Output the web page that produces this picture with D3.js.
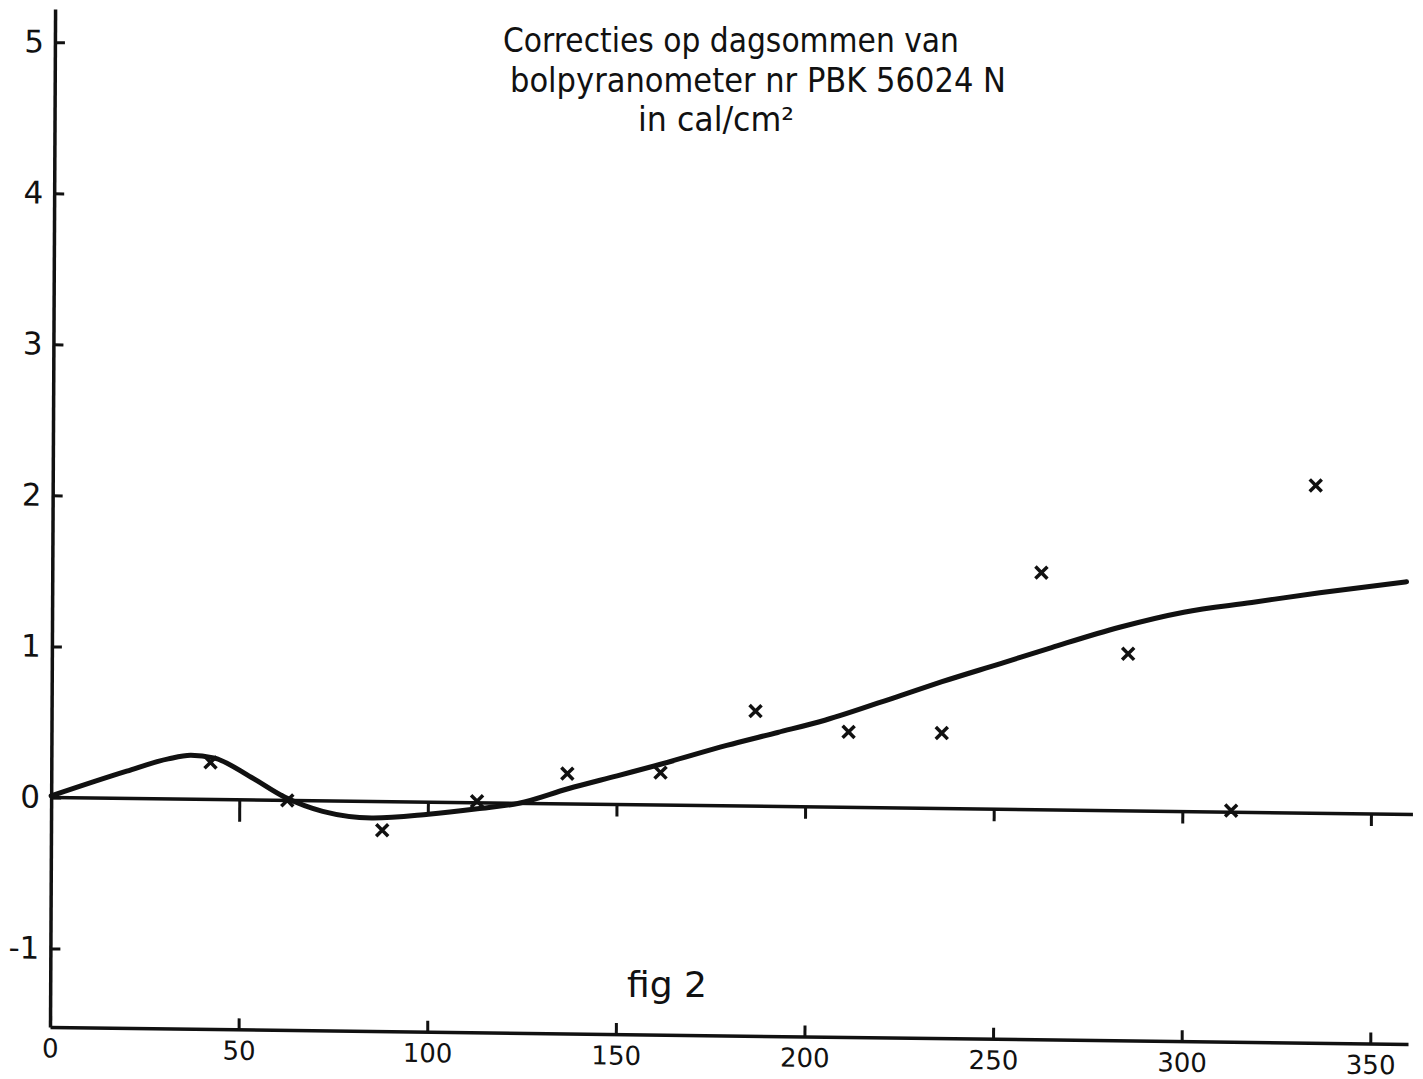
<!DOCTYPE html>
<html>
<head>
<meta charset="utf-8">
<script src="https://cdn.jsdelivr.net/npm/d3@7"></script>
<style>
  body { margin: 0; background: #fff; }
  text { font-family: "DejaVu Sans", sans-serif; fill: #111; }
</style>
</head>
<body>
<div id="chart"></div>
<script>
// data
var titleLines = ["Correcties op dagsommen van", "bolpyranometer nr PBK 56024 N", "in cal/cm\u00b2"];
var figLabel = "fig 2";

var xTicks = [0, 50, 100, 150, 200, 250, 300, 350];
var yTicks = [-1, 0, 1, 2, 3, 4, 5];

// measured corrections (crosses)
var pointX = [42.2, 62.6, 87.8, 112.9, 136.8, 161.5, 186.6, 211.3, 236, 262.2, 285.3, 312.8, 334.8];
var pointY = [0.245, 0.0, -0.19, 0.01, 0.2, 0.215, 0.63, 0.5, 0.5, 1.57, 1.04, 0.01, 2.17];

// hand drawn smooth curve
var curveX = [0, 20, 31, 37, 43, 53, 62, 72, 85, 100, 113, 124, 137, 150, 161.5, 179, 192.5, 205, 225, 236, 251.5, 265, 283, 300, 318, 336, 359];
var curveY = [0.01, 0.18, 0.265, 0.29, 0.275, 0.15, 0.02, -0.07, -0.11, -0.08, -0.04, 0.0, 0.1, 0.19, 0.27, 0.4, 0.49, 0.575, 0.745, 0.84, 0.965, 1.075, 1.215, 1.32, 1.39, 1.46, 1.54];

var svgWidth = 1423;
var svgHeight = 1079;

var svg = d3.select("#chart")
  .append("svg")
  .attr("width", svgWidth)
  .attr("height", svgHeight);

// the scan is slightly rotated, so the plot group gets a small skew
var chartGroup = svg.append("g")
  .attr("transform", "translate(50,1027) matrix(1,0.0125,-0.005,1,0,0)");

var xScale = d3.scaleLinear().domain([0, 360]).range([0, 1358]);
var yScale = d3.scaleLinear().domain([-1.52, 5.22]).range([0, -1018]);

// axes
var bottomAxis = d3.axisBottom(xScale)
  .tickValues(xTicks)
  .tickSizeInner(-11)
  .tickSizeOuter(0)
  .tickPadding(12)
  .tickFormat(d => String(d));

var leftAxis = d3.axisLeft(yScale)
  .tickValues(yTicks)
  .tickSizeInner(-10)
  .tickSizeOuter(0)
  .tickPadding(12)
  .tickFormat(d => String(d));

var gx = chartGroup.append("g").call(bottomAxis);
var gy = chartGroup.append("g").call(leftAxis);

[gx, gy].forEach(function(g) {
  g.select(".domain").attr("stroke", "#111").attr("stroke-width", 3.5);
  g.selectAll(".tick line").attr("stroke", "#111").attr("stroke-width", 3);
  g.selectAll(".tick text")
    .style("font-family", "DejaVu Sans, sans-serif")
    .style("font-size", "26px")
    .attr("fill", "#111");
});
gy.selectAll(".tick text").style("font-size", "31px").attr("x", -11);

// zero reference line with small ticks hanging below
chartGroup.append("line")
  .attr("x1", xScale(0))
  .attr("x2", xScale(361))
  .attr("y1", yScale(0))
  .attr("y2", yScale(0))
  .attr("stroke", "#111")
  .attr("stroke-width", 3.5);

chartGroup.selectAll(".zeroTick")
  .data(xTicks.slice(1))
  .enter()
  .append("line")
  .attr("class", "zeroTick")
  .attr("x1", d => xScale(d))
  .attr("x2", d => xScale(d))
  .attr("y1", yScale(0))
  .attr("y2", (d, i) => yScale(0) + (i === 0 ? 22 : 12))
  .attr("stroke", "#111")
  .attr("stroke-width", 3);

// curve
var curveData = curveX.map(function(x, i) { return { x: x, y: curveY[i] }; });
var line = d3.line()
  .x(d => xScale(d.x))
  .y(d => yScale(d.y))
  .curve(d3.curveMonotoneX);

chartGroup.append("path")
  .datum(curveData)
  .attr("d", line)
  .attr("fill", "none")
  .attr("stroke", "#111")
  .attr("stroke-width", 5)
  .attr("stroke-linecap", "round")
  .attr("stroke-linejoin", "round");

// crosses
var pointData = pointX.map(function(x, i) { return { x: x, y: pointY[i] }; });
chartGroup.selectAll(".cross")
  .data(pointData)
  .enter()
  .append("path")
  .attr("class", "cross")
  .attr("d", function(d) {
    var cx = xScale(d.x), cy = yScale(d.y), s = 6;
    return "M" + (cx - s) + "," + (cy - s) + "L" + (cx + s) + "," + (cy + s) +
           "M" + (cx - s) + "," + (cy + s) + "L" + (cx + s) + "," + (cy - s);
  })
  .attr("stroke", "#111")
  .attr("stroke-width", 3.5)
  .attr("fill", "none");

// title
var titleSpecs = [
  { x: 503, y: 52, len: 456 },
  { x: 510, y: 92, len: 496 },
  { x: 638, y: 131, len: 156 }
];
svg.selectAll(".title")
  .data(titleLines)
  .enter()
  .append("text")
  .attr("class", "title")
  .attr("x", (d, i) => titleSpecs[i].x)
  .attr("y", (d, i) => titleSpecs[i].y)
  .attr("textLength", (d, i) => titleSpecs[i].len)
  .attr("lengthAdjust", "spacingAndGlyphs")
  .style("font-size", "33px")
  .text(d => d);

svg.append("text")
  .attr("x", 627)
  .attr("y", 997)
  .attr("textLength", 80)
  .attr("lengthAdjust", "spacingAndGlyphs")
  .style("font-size", "36px")
  .text(figLabel);
</script>
</body>
</html>
